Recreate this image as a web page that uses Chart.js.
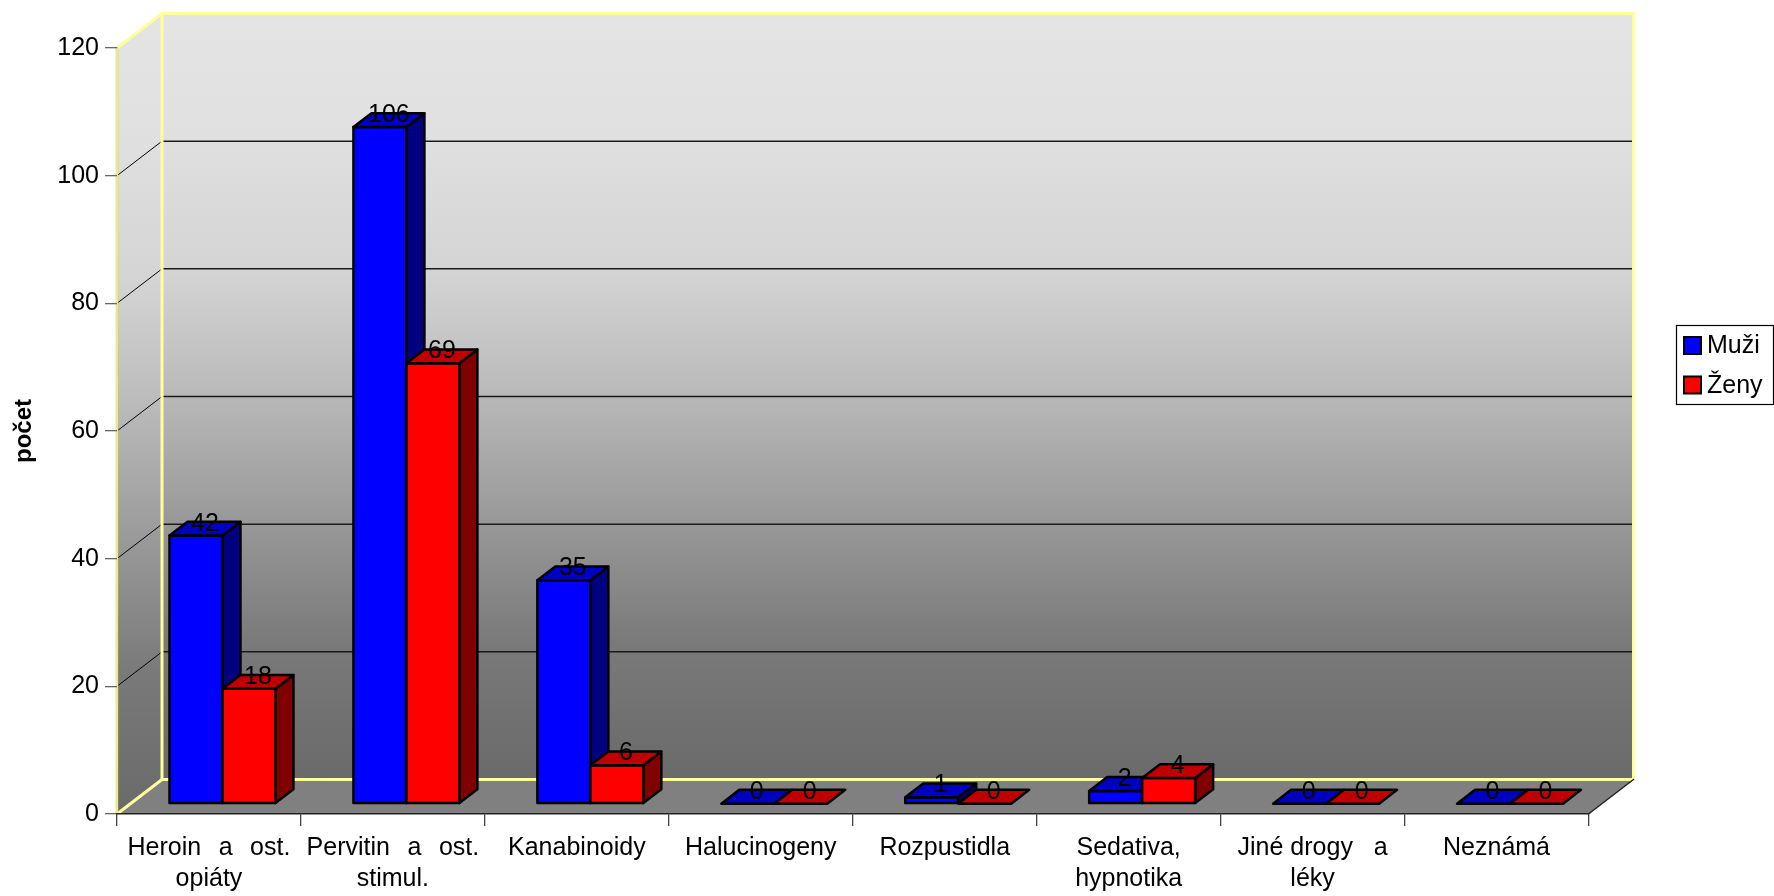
<!DOCTYPE html>
<html>
<head>
<meta charset="utf-8">
<script src="https://cdn.jsdelivr.net/npm/chart.js@4/dist/chart.umd.min.js"></script>
<style>
html,body{margin:0;padding:0;background:#fff;}
#wrap{width:1774px;height:896px;position:relative;}
</style>
</head>
<body>
<div id="wrap"><canvas id="c" width="1774" height="896"></canvas></div>
<script>
// ---------------- data ----------------
const categories = [
  ['Heroin\u2002\u2009a\u2002\u2009ost.', 'opiáty'],
  ['Pervitin\u2002\u2009a\u2002\u2009ost.', 'stimul.'],
  'Kanabinoidy',
  'Halucinogeny',
  'Rozpustidla',
  ['Sedativa,', 'hypnotika'],
  ['Jiné drogy   a', 'léky'],
  'Neznámá'
];
const seriesNames = ['Muži', 'Ženy'];
const muzi = [42, 106, 35, 0, 1, 2, 0, 0];
const zeny = [18, 69, 6, 0, 0, 4, 0, 0];
const yMin = 0, yMax = 120, yStep = 20;
const yTitle = 'počet';

// ---------------- styling ----------------
const FONT = '"Liberation Sans", Arial, sans-serif';
const WALL = { dx: 45, dy: -34.5 };        // depth of the 3D box
const BAR_FRONT = 0.3, BAR_DEPTH = 0.4;    // fractions of wall depth
const colors = [
  { front: '#0000ff', top: '#0000c0', side: '#000080' },
  { front: '#ff0000', top: '#c00000', side: '#800000' }
];
const YELLOW = '#ffff99';

function wallGradient(ctx, y0, y1) {
  const g = ctx.createLinearGradient(0, y0, 0, y1);
  g.addColorStop(0.00, 'rgb(228,228,228)');
  g.addColorStop(0.14, 'rgb(225,225,225)');
  g.addColorStop(0.335, 'rgb(212,212,212)');
  g.addColorStop(0.465, 'rgb(191,191,191)');
  g.addColorStop(0.82, 'rgb(122,122,122)');
  g.addColorStop(0.95, 'rgb(110,110,110)');
  g.addColorStop(1.00, 'rgb(106,106,106)');
  return g;
}

function poly(ctx, pts, fill, stroke, lw) {
  ctx.beginPath();
  ctx.moveTo(pts[0][0], pts[0][1]);
  for (let i = 1; i < pts.length; i++) ctx.lineTo(pts[i][0], pts[i][1]);
  ctx.closePath();
  if (fill) { ctx.fillStyle = fill; ctx.fill(); }
  if (stroke) { ctx.strokeStyle = stroke; ctx.lineWidth = lw; ctx.stroke(); }
}
function line(ctx, x0, y0, x1, y1, col, lw) {
  ctx.beginPath(); ctx.moveTo(x0, y0); ctx.lineTo(x1, y1);
  ctx.strokeStyle = col; ctx.lineWidth = lw; ctx.stroke();
}

const threeD = {
  id: 'threeD',
  beforeDraw(chart) {
    const { ctx, chartArea: a, scales: { y } } = chart;
    const L = a.left, R = a.right, T = a.top, B = a.bottom, dx = WALL.dx, dy = WALL.dy;
    ctx.save();
    ctx.fillStyle = wallGradient(ctx, T + dy, B + dy);
    ctx.fillRect(L + dx, T + dy, R - L, B - T);
    poly(ctx, [[L, T], [L + dx, T + dy], [L + dx, B + dy], [L, B]], wallGradient(ctx, T + dy, B));
    poly(ctx, [[L, B], [R, B], [R + dx, B + dy], [L + dx, B + dy]], '#808080');
    y.ticks.forEach(t => {
      if (t.value === yMin || t.value === yMax) return;
      const py = y.getPixelForValue(t.value);
      line(ctx, L + dx, py + dy, R + dx, py + dy, '#1a1a1a', 1.5);
      line(ctx, L, py, L + dx, py + dy, '#000', 1);
    });
    ctx.lineCap = 'round';
    line(ctx, L + dx, T + dy, R + dx, T + dy, YELLOW, 3);
    line(ctx, L + dx, T + dy, L + dx, B + dy, YELLOW, 3);
    line(ctx, R + dx, T + dy, R + dx, B + dy, YELLOW, 3);
    line(ctx, L + dx, B + dy, R + dx, B + dy, YELLOW, 3);
    line(ctx, L, T, L + dx, T + dy, YELLOW, 3);
    line(ctx, L, B, L + dx, B + dy, YELLOW, 3);
    line(ctx, L, T, L, B, '#cccc66', 2.5);
    line(ctx, L, T, L, B, YELLOW, 1.2);
    line(ctx, R, B, R + dx, B + dy, '#222', 1.5);
    ctx.restore();
  },
  beforeDatasetsDraw(chart) {
    const { ctx } = chart;
    const ox = WALL.dx * BAR_FRONT, oy = WALL.dy * BAR_FRONT;
    const bx = WALL.dx * BAR_DEPTH, by = WALL.dy * BAR_DEPTH;
    const metas = chart.data.datasets.map((d, i) => chart.getDatasetMeta(i));
    ctx.save();
    ctx.lineJoin = 'round';
    const n = chart.data.labels.length;
    for (let j = 0; j < n; j++) {
      metas.forEach((meta, i) => {
        const el = meta.data[j];
        const p = el.getProps(['x', 'y', 'base', 'width'], true);
        const x0 = p.x - p.width / 2 + ox, x1 = p.x + p.width / 2 + ox;
        const yt = Math.min(p.y, p.base) + oy, yb = Math.max(p.y, p.base) + oy;
        const c = colors[i];
        if (yb - yt > 0.3) {
          poly(ctx, [[x1, yt], [x1 + bx, yt + by], [x1 + bx, yb + by], [x1, yb]], c.side, '#000', 2.5);
          poly(ctx, [[x0, yt], [x1, yt], [x1, yb], [x0, yb]], c.front, '#000', 2.5);
        }
        poly(ctx, [[x0, yt], [x1, yt], [x1 + bx, yt + by], [x0 + bx, yt + by]], c.top, '#000', 2.5);
      });
    }
    ctx.restore();
    return false;
  },
  afterDraw(chart) {
    const { ctx } = chart;
    const ox = WALL.dx * BAR_FRONT, oy = WALL.dy * BAR_FRONT;
    const bx = WALL.dx * BAR_DEPTH, by = WALL.dy * BAR_DEPTH;
    ctx.save();
    ctx.font = '25px ' + FONT;
    ctx.fillStyle = '#000';
    ctx.textAlign = 'center';
    ctx.textBaseline = 'alphabetic';
    chart.data.datasets.forEach((ds, i) => {
      const meta = chart.getDatasetMeta(i);
      meta.data.forEach((el, j) => {
        const p = el.getProps(['x', 'y', 'base'], true);
        const yt = Math.min(p.y, p.base) + oy;
        ctx.fillText(String(ds.data[j]), p.x + ox + bx / 2, yt + by / 2 + 2);
      });
    });
    const lx = 1676, ly = 325, lw = 97, lh = 79;
    ctx.fillStyle = '#fff';
    ctx.fillRect(lx, ly, lw, lh);
    ctx.strokeStyle = '#000'; ctx.lineWidth = 1.2;
    ctx.strokeRect(lx + 0.5, ly + 0.5, lw, lh);
    ctx.font = '25px ' + FONT;
    ctx.textAlign = 'left';
    ctx.textBaseline = 'middle';
    chart.data.datasets.forEach((ds, i) => {
      const cy = ly + 20.5 + i * 39.5;
      ctx.fillStyle = colors[i].front;
      ctx.fillRect(lx + 8, cy - 8.5, 17, 17);
      ctx.lineWidth = 2; ctx.strokeStyle = '#000';
      ctx.strokeRect(lx + 8, cy - 8.5, 17, 17);
      ctx.fillStyle = '#000';
      ctx.fillText(ds.label, lx + 31, cy + 1);
    });
    ctx.restore();
  }
};

new Chart(document.getElementById('c'), {
  type: 'bar',
  data: {
    labels: categories,
    datasets: [
      { label: seriesNames[0], data: muzi, backgroundColor: colors[0].front },
      { label: seriesNames[1], data: zeny, backgroundColor: colors[1].front }
    ]
  },
  options: {
    responsive: false,
    animation: false,
    devicePixelRatio: 1,
    layout: { padding: { left: 0, top: 48, right: 185.5, bottom: 0 } },
    datasets: { bar: { categoryPercentage: 0.576, barPercentage: 1 } },
    plugins: { legend: { display: false }, tooltip: { enabled: false } },
    scales: {
      x: {
        afterFit(s) { s.height = 82; },
        grid: { offset: true, drawOnChartArea: false, drawTicks: true, tickLength: 12, color: '#444', lineWidth: 1.3 },
        border: { display: true, color: '#222', width: 1.5 },
        ticks: { autoSkip: false, maxRotation: 0, minRotation: 0, padding: 7, color: '#000',
                 font: { family: FONT, size: 25, lineHeight: 1.22 } }
      },
      y: {
        min: yMin, max: yMax,
        afterFit(s) { s.width = 117; },
        grid: { drawOnChartArea: false, drawTicks: true, tickLength: 12, color: '#666', lineWidth: 1.3 },
        border: { display: false },
        ticks: { stepSize: yStep, padding: 6, color: '#000', font: { family: FONT, size: 25 } },
        title: { display: true, text: yTitle, color: '#000', padding: { top: 10, bottom: 0 },
                 font: { family: FONT, size: 24, weight: 'bold' } }
      }
    }
  },
  plugins: [threeD]
});
</script>
</body>
</html>
